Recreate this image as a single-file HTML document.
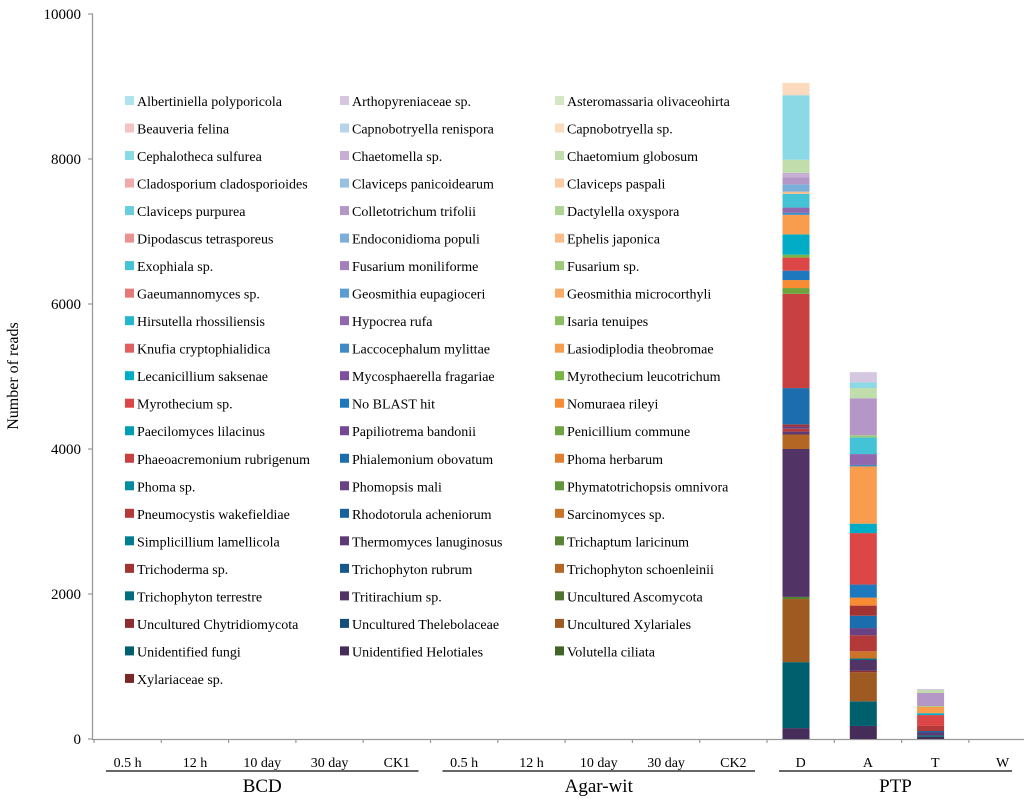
<!DOCTYPE html>
<html><head><meta charset="utf-8"><style>
html,body{margin:0;padding:0;background:#fff;}
svg{display:block;font-family:"Liberation Serif",serif;}
</style></head><body>
<svg id="chart" width="1024" height="799" viewBox="0 0 1024 799" xmlns="http://www.w3.org/2000/svg">
<g id="axes"></g>
<g id="bars"></g>
<g id="legend"></g>
<text x="18" y="376" font-size="16" text-anchor="middle" transform="rotate(-90 18 376)">Number of reads</text>
</svg>
<script>
const categories = ["0.5  h","12 h","10 day","30 day","CK1","0.5  h","12 h","10 day","30 day","CK2","D","A","T","W"];
const groups = ["BCD","Agar-wit","PTP"];
const yTicks = [0,2000,4000,6000,8000,10000];
const species = ["Albertiniella polyporicola","Arthopyreniaceae sp.","Asteromassaria olivaceohirta","Beauveria felina","Capnobotryella renispora","Capnobotryella sp.","Cephalotheca sulfurea","Chaetomella sp.","Chaetomium globosum","Cladosporium cladosporioides","Claviceps panicoidearum","Claviceps paspali","Claviceps purpurea","Colletotrichum trifolii","Dactylella oxyspora","Dipodascus tetrasporeus","Endoconidioma populi","Ephelis japonica","Exophiala sp.","Fusarium moniliforme","Fusarium sp.","Gaeumannomyces sp.","Geosmithia eupagioceri","Geosmithia microcorthyli","Hirsutella rhossiliensis","Hypocrea rufa","Isaria tenuipes","Knufia cryptophialidica","Laccocephalum mylittae","Lasiodiplodia theobromae","Lecanicillium saksenae","Mycosphaerella fragariae","Myrothecium leucotrichum","Myrothecium sp.","No BLAST hit","Nomuraea rileyi","Paecilomyces lilacinus","Papiliotrema bandonii","Penicillium commune","Phaeoacremonium rubrigenum","Phialemonium obovatum","Phoma herbarum","Phoma sp.","Phomopsis mali","Phymatotrichopsis omnivora","Pneumocystis wakefieldiae","Rhodotorula acheniorum","Sarcinomyces sp.","Simplicillium lamellicola","Thermomyces lanuginosus","Trichaptum laricinum","Trichoderma sp.","Trichophyton rubrum","Trichophyton schoenleinii","Trichophyton terrestre","Tritirachium sp.","Uncultured Ascomycota","Uncultured Chytridiomycota","Uncultured Thelebolaceae","Uncultured Xylariales","Unidentified fungi","Unidentified Helotiales","Volutella ciliata","Xylariaceae sp."];
const dSpecies = ["Unidentified Helotiales","Unidentified fungi","Uncultured Xylariales","Trichaptum laricinum","Tritirachium sp.","Trichophyton schoenleinii","Thermomyces lanuginosus","Pneumocystis wakefieldiae","Phomopsis mali","Trichoderma sp.","Phialemonium obovatum","Phaeoacremonium rubrigenum","Penicillium commune","Nomuraea rileyi","No BLAST hit","Myrothecium sp.","Myrothecium leucotrichum","Lecanicillium saksenae","Lasiodiplodia theobromae","Laccocephalum mylittae","Hypocrea rufa","Exophiala sp.","Ephelis japonica","Endoconidioma populi","Colletotrichum trifolii","Chaetomella sp.","Chaetomium globosum","Cephalotheca sulfurea","Capnobotryella sp."];
const dValues = [150,910,870,30,2040,200,40,40,30,30,500,1300,80,110,130,180,40,280,270,30,70,190,30,100,100,60,180,890,170];
const aSpecies = ["Unidentified Helotiales","Unidentified fungi","Uncultured Xylariales","Uncultured Chytridiomycota","Tritirachium sp.","Trichophyton terrestre","Sarcinomyces sp.","Pneumocystis wakefieldiae","Phomopsis mali","Phialemonium obovatum","Trichoderma sp.","Nomuraea rileyi","No BLAST hit","Myrothecium sp.","Lecanicillium saksenae","Lasiodiplodia theobromae","Laccocephalum mylittae","Hypocrea rufa","Exophiala sp.","Fusarium sp.","Colletotrichum trifolii","Chaetomium globosum","Cephalotheca sulfurea","Arthopyreniaceae sp."];
const aValues = [180,340,400,20,150,20,100,220,100,170,140,110,180,710,130,790,20,150,230,30,510,140,80,140];
const tSpecies = ["Unidentified Helotiales","Unidentified fungi","Thermomyces lanuginosus","Rhodotorula acheniorum","Pneumocystis wakefieldiae","Myrothecium sp.","Lecanicillium saksenae","Lasiodiplodia theobromae","Fusarium sp.","Colletotrichum trifolii","Chaetomium globosum","Arthopyreniaceae sp."];
const tValues = [30,20,40,20,70,150,25,90,10,180,40,15];

const NS="http://www.w3.org/2000/svg";
const X0=94, CW=67.3, Y0=739, YMAX=10000, YTOP=14;
function yScale(v){return Y0-(v/YMAX)*(Y0-YTOP);}
function xBand(i){return X0+i*CW;}
function mk(tag,attrs,parent){const e=document.createElementNS(NS,tag);for(const k in attrs)e.setAttribute(k,attrs[k]);parent.appendChild(e);return e;}
const bases=[[0,172,198],[128,80,160],[120,180,70],[220,70,70],[30,120,190],[247,140,50]];
function colorOf(idx){
  const b=bases[idx%6]; const p=Math.floor(idx/6);
  const t = p<=5 ? 0.68-0.136*p : -(p-5)*0.09;
  let c;
  if(t>=0) c=b.map(v=>Math.round(v+(255-v)*t)); else c=b.map(v=>Math.round(v*(1+t)));
  return "rgb("+c.join(",")+")";
}
const axes=document.getElementById('axes');
let l=mk('line',{x1:92.5,y1:YTOP,x2:92.5,y2:Y0,stroke:'#999','stroke-width':1.3},axes);


l=mk('line',{x1:92,y1:Y0+0.5,x2:1024,y2:Y0+0.5,stroke:'#999','stroke-width':1.3},axes);


yTicks.forEach(v=>{
  const y=yScale(v);
  const t=mk('line',{x1:88,y1:y,x2:93,y2:y,stroke:'#999','stroke-width':1.2},axes);
  
  
  const tx=mk('text',{x:81,y:y+5,'font-size':15,'text-anchor':'end'},axes);
  
  
  tx.textContent=String(v);
});
for(let i=0;i<=categories.length;i++){
  const t=mk('line',{x1:xBand(i),y1:Y0,x2:xBand(i),y2:Y0+4,stroke:'#999','stroke-width':1.2},axes);
  
  
}
categories.forEach((c,i)=>{
  const tx=mk('text',{x:xBand(i)+CW/2,y:767,'font-size':14,'text-anchor':'middle'},axes);
  
  
  tx.textContent=c;
});
const groupRanges=[[0,5],[5,10],[10,14]];
groups.forEach((g,k)=>{
  const a=xBand(groupRanges[k][0])+12, b=Math.min(xBand(groupRanges[k][1])-12,1012);
  const ln=mk('line',{x1:a,y1:771,x2:b,y2:771,stroke:'#333','stroke-width':1.5},axes);
  
  
  const tx=mk('text',{x:(a+b)/2,y:792,'font-size':19,'text-anchor':'middle'},axes);
  
  
  tx.textContent=g;
});
const barsG=document.getElementById('bars');
function drawStack(ci,names,vals){
  let acc=0;
  vals.forEach((v,j)=>{
    const y1=yScale(acc), y2=yScale(acc+v);
    const r=mk('rect',{x:xBand(ci)+15.5,y:y2,width:27,height:y1-y2,fill:colorOf(species.indexOf(names[j]))},barsG);
    
    
    acc+=v;
  });
}
drawStack(10,dSpecies,dValues);
drawStack(11,aSpecies,aValues);
drawStack(12,tSpecies,tValues);
const lg=document.getElementById('legend');
species.forEach((s,i)=>{
  const row=Math.floor(i/3), col=i%3;
  const x=125+col*215, y=101+row*27.52;
  const g=mk('g',{},lg);
  
  
  mk('rect',{x:x,y:y-5,width:9,height:9,fill:colorOf(i)},g);
  const tx=mk('text',{x:x+12,y:y+5,'font-size':14},g);
  tx.textContent=s;
});
</script>
</body></html>
